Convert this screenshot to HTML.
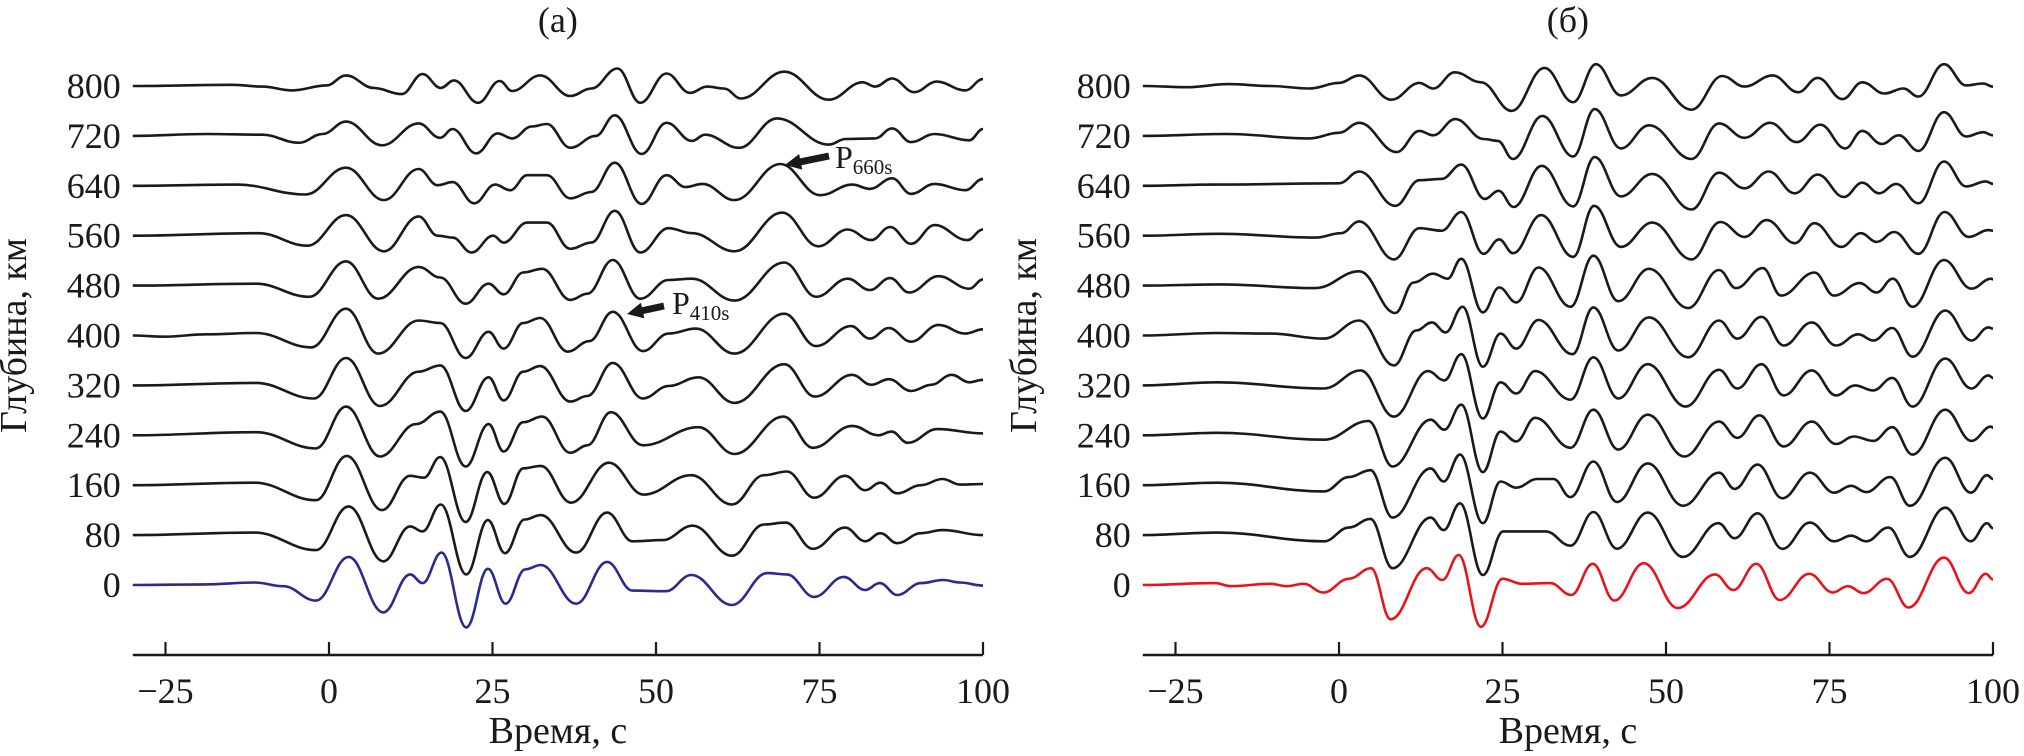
<!DOCTYPE html>
<html><head><meta charset="utf-8"><style>
html,body{margin:0;padding:0;background:#fff;}
svg{display:block;}
text{font-family:"Liberation Serif",serif;fill:#1a1a1a;}
</style></head><body>
<svg id="chart" width="2024" height="756" viewBox="0 0 2024 756" xmlns="http://www.w3.org/2000/svg">
<g id="left"></g>
<g id="right"></g>
</svg>
<script>
// ---------- data ----------
const depthTicks = [0,80,160,240,320,400,480,560,640,720,800];
const timeTicks = [-25,0,25,50,75,100];
const timeTickLabels = ["\u221225","0","25","50","75","100"];

// Left panel (a): times (s) and amplitudes (km-scale) of trace extrema
const L0t=[-30,-19,-11.4,-7,-2,3,8.3,12.4,14.3,17.2,21,24.3,27,30,32.4,37.8,42.5,46.4,51.5,55.4,61.6,67,70,74.2,78.7,82,84.2,86.9,90.5,93.9,96.5,100];
const L0a=[0,1,4,-2,-25,45,-44,17,3,52,-68,26,-30,25,32,-30,37,-9,-10,16,-32,19,17,-19,13,-8,3,-16,3,8,4,-1];
const L80t=[-30,-11.4,-2,3,8.3,12.4,14.3,17.1,21,24.3,26.9,29.9,32.4,37.8,42.5,46.4,51,55.6,61.6,66.5,69.8,74,78.9,82,84.3,86.9,90.5,93.8,100];
const L80a=[0,4,-24,46,-42,14,6,49,-63,24,-29,25,32,-28,36,-10,-8,15,-33,17,20,-22,12,-10,3,-13,3,8,0];
const L160t=[-30,-11.4,-2,2.7,8.1,12.4,14.5,17,20.9,24.2,26.8,29.7,32.4,37,42.8,48.1,55.4,61.6,66.5,70,74.2,78.9,82,84.3,86.9,90.5,93.8,96.5,100];
const L160a=[0,4,-24,47,-40,15,12,45,-59,21,-30,27,31,-28,36,-15,16,-31,16,22,-20,15,-8,4,-13,0,10,1,2];
const L240t=[-30,-11.2,-2,2.6,7.8,13.3,17,20.9,24.4,26.7,29.7,32.6,36.9,39.5,43.1,48,56.5,62,69.5,74,80,84,86,88.5,93,100];
const L240a=[0,5,-21,46,-34,18,38,-50,18,-26,21,30,-28,-16,37,-16,13,-30,30,-20,15,0,6,-12,10,3];
const L320t=[-30,-11.2,-2.3,2.6,7.8,13.7,17,20.9,24.4,26.7,29.7,32.3,36.9,39.5,43.4,48,51.9,56.5,62,69.6,74.3,80,82.9,85.6,89,92.1,95.2,97.9,100];
const L320a=[0,4,-21,44,-33,22,32,-41,13,-24,22,31,-26,-17,36,-21,-1,13,-28,34,-18,17,1,10,-9,1,17,5,9];
const L400t=[-30,-25.2,-18.7,-11.2,-2.7,2.6,7.5,13.7,17,20.9,24.4,26.7,29.7,32.3,36.5,39.8,43.4,48,51.9,56.1,62,69.6,74.5,79.8,82.7,85.6,89,93.2,97.3,100];
const L400a=[0,-2,2,4,-19,43,-29,24,20,-36,6,-21,20,28,-26,-9,38,-25,3,11,-29,35,-17,15,-5,12,-10,17,3,10];
const L480t=[-30,-11.2,-3,2.6,7.5,13.7,17,20.9,24.4,26.7,29.7,32.6,36.9,39.5,43.4,47.6,51.9,55.5,62,69.6,74.5,79.3,82.7,85.8,88.7,93.2,97.9,100];
const L480a=[0,3,-18,39,-21,30,13,-29,3,-14,21,27,-23,-13,41,-21,9,11,-24,37,-18,11,-7,12,-11,15,-5,10];
const L560t=[-30,-10.8,-3.3,2.6,8.4,13.7,16.6,18.9,21.8,25.1,26.7,30.3,33.3,36.9,40.1,43.7,47.6,51.9,55.5,62,69.3,74.8,79.3,82.9,85.8,89,92.6,97.6,100];
const L560a=[0,4,-16,33,-25,31,0,-3,-27,0,-11,21,21,-21,-11,40,-27,12,4,-25,37,-17,10,-7,14,-13,17,-7,10];
const L640t=[-30,-14.1,-3.6,2.6,8.4,13.7,16.6,18.9,22.2,25.4,27.7,30.3,33.3,36.9,40.1,43.7,47.8,51.6,54.5,57.1,62,69,75.1,80,82.7,86.1,89,92.6,97.3,100];
const L640a=[0,2,-14,29,-23,27,1,6,-28,2,-7,17,17,-20,-10,37,-29,17,-2,3,-23,35,-15,2,-5,12,-13,3,-7,11];
const L720t=[-30,-18.7,-10.2,-4.6,-1,2.6,8.1,13.7,17,18.9,22.5,25.8,28,31,33.3,36.9,40.8,43.7,47.8,51.6,55.5,57.5,62.7,68.5,76.4,79,83.5,86.1,89,92.6,97.9,100];
const L720a=[0,3,2,-11,3,23,-15,20,-3,11,-28,4,-4,15,19,-19,0,33,-29,21,-8,2,-19,28,-14,-5,-4,12,-10,3,-7,11];
const L800t=[-30,-14.8,-10.2,-5.6,-0.4,2.6,6.8,11.1,14.3,17.1,19.1,22.8,26.1,28,32.3,36.9,40.1,44.1,47.6,51.6,55.2,57.8,60.4,63,69.6,76.4,81.6,83.5,86.1,89.5,92.9,97.3,100];
const L800a=[0,2,-1,-7,1,17,-3,-13,19,-3,9,-27,8,-8,17,-16,-4,28,-27,20,-11,-1,-4,-20,23,-22,6,-1,12,-10,7,-7,11];

// Right panel (б)
const R0t=[-30,-19,-16.5,-10.5,-8,-5.4,-2.4,1.5,4.9,7.9,13.4,15.8,18.3,21.7,25,28,32.3,35.5,38.8,42.1,46.6,51.8,57.5,60.3,63.8,67.4,71.9,75.5,77.8,80.2,83.8,87.1,92.5,96.3,98.9,100];
const R0a=[0,3,-2,2,-2,2,-12,10,27,-55,27,8,48,-67,10,2,3,-16,34,-25,35,-37,17,-8,34,-24,18,-12,-2,-13,10,-36,44,-13,18,9];
const R80t=[-30,-18.6,-2.3,1.5,4.8,8.2,14,16,18.5,22,25.1,31.6,35.4,38.9,42.5,47.2,52.6,58,60.5,64,67.8,72,75.7,78.3,80.6,84,87.3,92.7,96.6,99.1,100];
const R80a=[0,4,-10,12,26,-53,28,8,51,-64,6,6,-17,37,-22,36,-35,19,-5,35,-22,20,-10,-1,-10,12,-35,44,-10,19,11];
const R160t=[-30,-18.6,-2.3,1.5,4.8,8.2,14,16,18.5,22,24.7,27.1,30.3,32.8,35.4,38.9,42.5,47.2,52.6,58.1,60.5,64,67.8,72,75.7,78.3,80.6,84.3,87.3,92.7,96.6,99.1,100];
const R160a=[0,4,-10,13,24,-52,27,6,49,-61,6,-4,10,10,-19,38,-27,35,-33,20,-6,33,-21,20,-12,-1,-11,13,-33,44,-12,16,10];
const R240t=[-30,-18.6,-2.3,4.5,8.2,14,16.1,18.7,22,24.7,27.1,30,35.4,38.9,42.7,47.2,52.8,58.1,60.9,64.3,68,72.3,76,78.7,81.7,84.6,87.7,92.7,96.7,99.7,100];
const R240a=[0,4,-7,23,-50,25,9,49,-59,6,-10,28,-20,41,-23,33,-34,22,-4,32,-18,22,-14,-2,-9,13,-31,41,-9,14,12];
const R320t=[-30,-18.6,-2.3,3.3,8.4,13.6,16.1,18.7,22,24.7,27.1,30,35.4,38.9,42.7,47.2,53,58.1,60.9,64.6,68,72.3,76,78.9,81.7,84.6,87.7,92.7,96.7,99.3,100];
const R320a=[0,5,-5,24,-50,23,8,50,-53,5,-13,23,-23,45,-21,34,-34,25,-5,34,-16,24,-16,0,-8,12,-34,43,-5,16,12];
const R400t=[-30,-18.6,-10.5,-2.3,3.1,8.4,11.8,14.2,16.3,18.9,22,24.7,27.1,30.5,35.7,38.9,42.7,47.4,53.4,58.1,60.9,64.6,68,72.3,76,79.4,81.7,84.6,87.7,92.7,96.7,99.3,100];
const R400a=[0,4,3,-5,24,-48,8,21,5,46,-50,3,-21,25,-30,45,-24,29,-35,24,-5,30,-16,21,-16,2,-8,12,-34,40,-8,13,11];
const R480t=[-30,-18.2,-3.6,3.1,8.6,11.4,14.4,16.6,18.7,22,24.5,27.1,30.5,35.4,38.9,42.7,47.4,53.4,58.1,60.7,64.8,67.6,72.7,75.7,79.6,82.2,84.7,87.7,92.5,96.7,99.7,100];
const R480a=[0,2,-4,23,-44,5,19,11,43,-43,-3,-27,29,-34,48,-25,27,-36,25,-4,28,-16,21,-16,4,-11,11,-34,41,-5,11,10];
const R560t=[-30,-18.2,-3.6,0.3,3.1,8.4,12.3,15.7,18.7,22.1,24.5,26.6,30.9,35.8,39,43.1,47.9,53.9,58.3,62,65.4,69.7,72.7,76.8,79.8,82.2,84.9,88.6,92.6,96.3,99.3,100];
const R560a=[0,3,-3,4,23,-38,12,8,38,-29,-6,-28,33,-34,48,-18,21,-38,22,-2,25,-12,20,-18,4,-10,6,-29,38,-2,9,8];
const R640t=[-30,-19,0,3.1,8.6,12.3,15.7,18.7,22.3,24.4,26.7,31,35.8,39.1,43.1,47.9,53.9,58.1,62,65.7,69.7,73.2,77.2,80,82.6,85.2,88.6,92.5,95.9,98.9,100];
const R640a=[0,2,4,23,-32,9,11,34,-21,-8,-34,32,-33,46,-17,19,-38,21,-4,23,-12,18,-18,5,-12,3,-28,39,-1,7,3];
const R720t=[-30,-17.3,-4.5,0,3.1,8.8,12.3,14.4,17.8,22.1,24.3,26.6,31.1,35.8,39.1,43.1,47.4,53.9,58.1,62,65.9,70,73.6,77.4,80,83,85.6,88.6,92.5,95.9,98.5,100];
const R720a=[0,3,-4,5,21,-26,8,1,27,-5,-8,-37,32,-33,43,-20,17,-37,20,-3,21,-10,18,-20,8,-13,1,-24,38,-1,6,1];
const R800t=[-30,-23.3,-16.9,-10.5,-4.5,0,3.1,8,12.3,14.4,17.7,21.7,26.4,31.4,35.8,39.3,43.1,47.9,53.9,58.6,62,66.3,70.2,73.2,77,80,83.4,86.3,88.6,92.5,95.9,98.5,100];
const R800a=[0,-2,3,0,-4,5,17,-22,5,-4,22,6,-40,29,-26,35,-15,13,-38,16,-1,17,-10,13,-21,6,-12,-4,-17,35,1,4,-1];

// ---------- rendering ----------
const NS="http://www.w3.org/2000/svg";
const Y0=585, PXKM=49.9/80, PXS=6.54, AXY=655;
function yOf(d){return Y0-d*PXKM;}
function mk(tag,attrs,parent){const e=document.createElementNS(NS,tag);for(const k in attrs)e.setAttribute(k,attrs[k]);parent.appendChild(e);return e;}

function drawPanel(g,x0,traces,title,bottomColor,panelKey){
  const xOf=t=>x0+t*PXS;
  // title
  const tt=mk('text',{x:xOf(35),y:32,'font-size':36,'text-anchor':'middle'},g);
  tt.textContent=title;
  
  
  // y label
  const yl=mk('text',{x:0,y:0,'font-size':38,'text-anchor':'middle',transform:`translate(${xOf(-30)-107},${yOf(400)}) rotate(-90)`},g);
  yl.textContent='Глубина, км';
  
  
  // depth labels
  depthTicks.forEach(d=>{
    const t=mk('text',{x:xOf(-30)-12,y:yOf(d)+12,'font-size':36,'text-anchor':'end'},g);
    t.textContent=String(d);
    
    
  });
  // x axis
  const ax=mk('line',{x1:xOf(-30),x2:xOf(100),y1:AXY,y2:AXY,stroke:'#1a1a1a','stroke-width':2.6},g);
  
  
  timeTicks.forEach((v,i)=>{
    const tk=mk('line',{x1:xOf(v),x2:xOf(v),y1:AXY,y2:AXY-13,stroke:'#1a1a1a','stroke-width':2.2},g);
    
    
    const lb=mk('text',{x:xOf(v),y:AXY+48,'font-size':36,'text-anchor':'middle'},g);
    lb.textContent=timeTickLabels[i];
    
    
  });
  const xt=mk('text',{x:xOf(35),y:743,'font-size':38,'text-anchor':'middle'},g);
  xt.textContent='Время, с';
  
  
  // traces
  traces.forEach(tr=>{
    const [d,ts,as]=tr;
    let p='';
    for(let i=0;i<ts.length;i++){
      const x=xOf(ts[i]), y=yOf(d+as[i]);
      if(i===0){p+=`M${x.toFixed(1)},${y.toFixed(1)}`;}
      else{
        const xp=xOf(ts[i-1]), yp=yOf(d+as[i-1]), dx=x-xp;
        p+=` C${(xp+dx*0.4).toFixed(1)},${yp.toFixed(1)} ${(x-dx*0.4).toFixed(1)},${y.toFixed(1)} ${x.toFixed(1)},${y.toFixed(1)}`;
      }
    }
    const path=mk('path',{d:p,fill:'none',stroke:d===0?bottomColor:'#1a1a1a','stroke-width':2.6,'stroke-linejoin':'round'},g);
    
    
  });
}

drawPanel(document.getElementById('left'),329,[
 [0,L0t,L0a],[80,L80t,L80a],[160,L160t,L160a],[240,L240t,L240a],[320,L320t,L320a],[400,L400t,L400a],
 [480,L480t,L480a],[560,L560t,L560a],[640,L640t,L640a],[720,L720t,L720a],[800,L800t,L800a]],'(а)','#2a2a90','panel-a');
drawPanel(document.getElementById('right'),1339,[
 [0,R0t,R0a],[80,R80t,R80a],[160,R160t,R160a],[240,R240t,R240a],[320,R320t,R320a],[400,R400t,R400a],
 [480,R480t,R480a],[560,R560t,R560a],[640,R640t,R640a],[720,R720t,R720a],[800,R800t,R800a]],'(б)','#e8141c','panel-b');

// annotations (left panel)
const lg=document.getElementById('left');
function arrow(x1,y1,x2,y2,name){
  const dx=x2-x1,dy=y2-y1,L=Math.hypot(dx,dy),ux=dx/L,uy=dy/L,nx=-uy,ny=ux;
  const hb=16,hw=8,bw=3.5;
  const bx=x2-ux*hb,by=y2-uy*hb;
  const pts=[[x1+nx*bw,y1+ny*bw],[bx+nx*bw,by+ny*bw],[bx+nx*hw,by+ny*hw],[x2,y2],[bx-nx*hw,by-ny*hw],[bx-nx*bw,by-ny*bw],[x1-nx*bw,y1-ny*bw]];
  const a=mk('polygon',{points:pts.map(p=>p.map(v=>v.toFixed(1)).join(',')).join(' '),fill:'#1a1a1a'},lg);
  
  
}
arrow(664,306,627,314,'p410s-arrow');
arrow(829,156,785,165,'p660s-arrow');
const l1=mk('text',{x:672,y:314,'font-size':32},lg);
l1.innerHTML='P<tspan font-size="21" dy="6">410s</tspan>';


const l2=mk('text',{x:835,y:168,'font-size':32},lg);
l2.innerHTML='P<tspan font-size="21" dy="6">660s</tspan>';


</script>
</body></html>
